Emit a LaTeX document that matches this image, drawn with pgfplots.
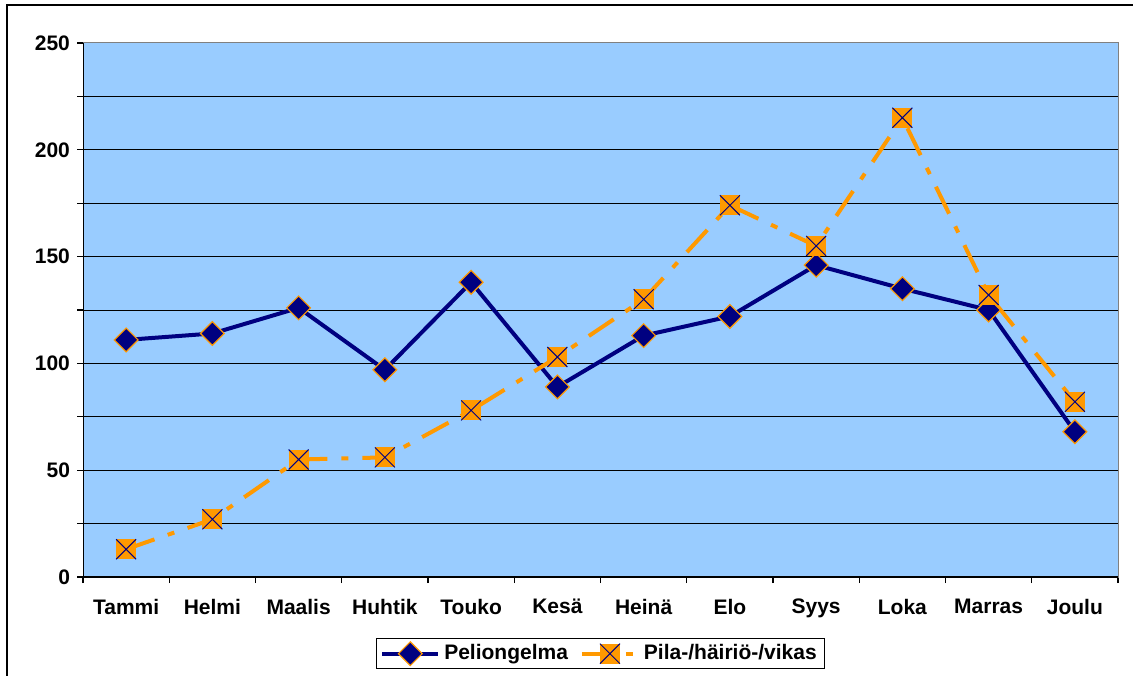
\documentclass[border=0pt]{standalone}
\usepackage{fontspec}
\setmainfont{Liberation Sans}
\usepackage{pgfplots}
\usepackage{pgfplotstable}
\pgfplotsset{compat=1.18}

\definecolor{navyline}{HTML}{000080}
\definecolor{orangeline}{HTML}{FF9900}
\definecolor{plotbg}{HTML}{99CCFF}
\definecolor{boxgray}{HTML}{808080}

% filled square with a diagonal cross drawn over it
\pgfdeclareplotmark{boxcross}{%
  \pgfpathrectangle{\pgfpoint{-\pgfplotmarksize}{-\pgfplotmarksize}}{\pgfpoint{2\pgfplotmarksize}{2\pgfplotmarksize}}%
  \pgfusepathqfill
  \pgfpathmoveto{\pgfpoint{-\pgfplotmarksize}{-\pgfplotmarksize}}%
  \pgfpathlineto{\pgfpoint{\pgfplotmarksize}{\pgfplotmarksize}}%
  \pgfpathmoveto{\pgfpoint{-\pgfplotmarksize}{\pgfplotmarksize}}%
  \pgfpathlineto{\pgfpoint{\pgfplotmarksize}{-\pgfplotmarksize}}%
  \pgfusepathqstroke
}

% month index, Peliongelma, Pila-/häiriö-/vikas
\pgfplotstableread{
m  p    h
0  111  13
1  114  27
2  126  55
3  97   56
4  138  78
5  89   103
6  113  130
7  122  174
8  146  155
9  135  215
10 125  132
11 68   82
}\monthly

\begin{document}
\begin{tikzpicture}
\useasboundingbox (0,0) rectangle (566.5pt,337.5pt);
% outer chart frame
\draw[black, line width=1pt] (3.5pt,-2pt) -- (3.5pt,335pt) -- (570pt,335pt);
\begin{axis}[
  at={(41.5pt,49pt)}, anchor=south west,
  scale only axis, width=517.5pt, height=267pt,
  xmin=-0.5, xmax=11.5, ymin=0, ymax=250,
  axis background/.style={fill=plotbg},
  axis line style={draw=boxgray, line width=0.5pt},
  xtick={-0.5,0.5,...,11.5},
  x tick label as interval=true,
  xticklabels={Tammi,Helmi,Maalis,Huhtik,Touko,Kesä,Heinä,Elo,Syys,Loka,Marras,Joulu},
  ytick={0,50,...,250},
  minor ytick={25,75,...,225},
  ymajorgrids, yminorgrids,
  major grid style={black, line width=0.5pt},
  minor grid style={black, line width=0.5pt},
  tick pos=left, tick align=outside,
  major tick length=3pt, minor tick length=3pt,
  tick style={black, line width=0.6pt},
  /pgf/number format/assume math mode=true,
  ticklabel style={font=\fontsize{10.5}{12}\selectfont\bfseries},
  xticklabel style={yshift=-4.5pt},
  legend columns=2,
  legend style={at={(0.5,0)}, anchor=north, yshift=-30.5pt,
    draw=black, line width=0.6pt, fill=white,
    font=\fontsize{10.5}{12}\selectfont\bfseries,
    inner xsep=2pt, inner ysep=1pt,
    /tikz/every even column/.append style={column sep=4pt}},
  legend image code/.code={%
    \draw[mark repeat=2, mark phase=2, #1] plot coordinates {(0pt,0pt) (14pt,0pt) (28pt,0pt)};},
]
\addplot[navyline, line width=2pt, mark=square*,
  mark size=4.2pt,
  mark options={solid, rotate=45, fill=navyline, draw=orangeline, line width=0.6pt}]
  table[x=m, y=p] {\monthly};
\addlegendentry{Peliongelma}
\addplot[orangeline, line width=2pt,
  dash pattern=on 15pt off 7pt on 3.5pt off 7pt,
  mark=boxcross, mark size=5pt,
  mark options={solid, fill=orangeline, draw=navyline, line width=0.5pt}]
  table[x=m, y=h] {\monthly};
\addlegendentry{Pila-/häiriö-/vikas}
\draw[black, line width=1pt] (rel axis cs:0,1) -- (rel axis cs:0,0) -- (rel axis cs:1,0);
\end{axis}
\end{tikzpicture}
\end{document}
